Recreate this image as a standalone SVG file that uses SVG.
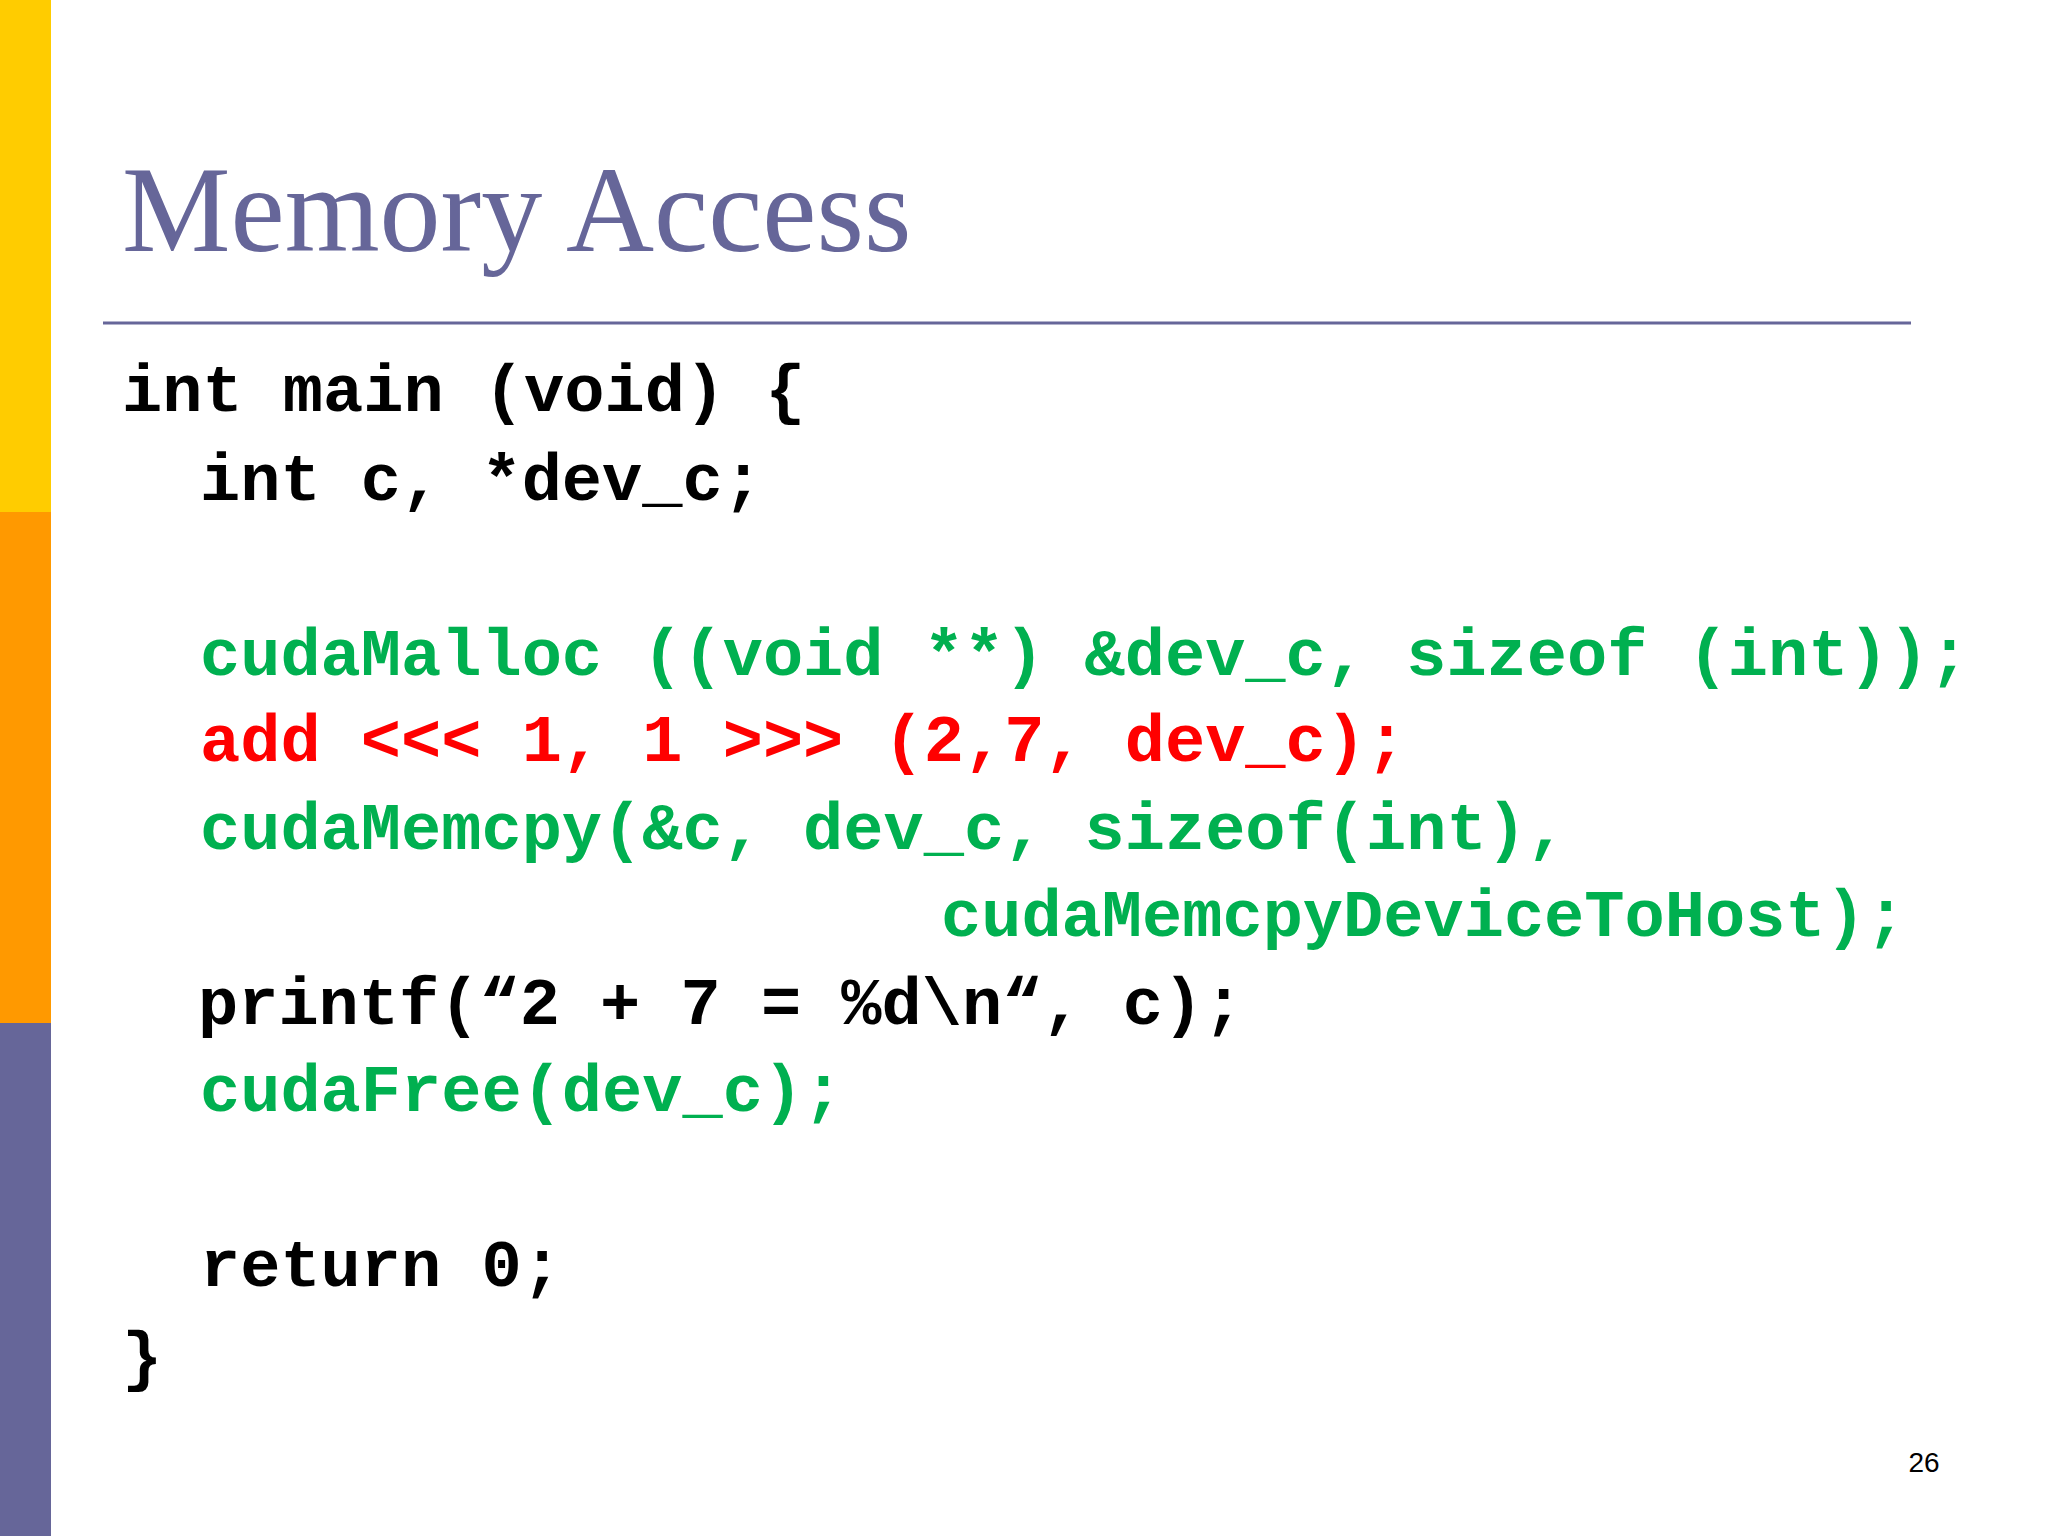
<svg xmlns="http://www.w3.org/2000/svg" width="2048" height="1536" viewBox="0 0 2048 1536">
<style>
.c{font-family:"Liberation Mono","Courier New",monospace;font-weight:bold;font-size:67px;white-space:pre}
.k{fill:#000}.g{fill:#00b050}.r{fill:#ff0000}
</style>
<rect width="2048" height="1536" fill="#fff"/>
<g id="sidebar">
<rect x="0" y="0" width="51" height="512" fill="#ffcc00"/>
<rect x="0" y="512" width="51" height="511" fill="#ff9900"/>
<rect x="0" y="1023" width="51" height="513" fill="#666699"/>
</g>
<g id="title">
<text x="122" y="251" font-family="Liberation Serif,serif" font-size="122" fill="#666699">Memory Access</text>
<line x1="103" y1="323" x2="1911" y2="323" stroke="#666699" stroke-width="3"/>
</g>
<g id="code">
<text class="c k" x="122" y="411">int main (void) {</text>
<text class="c k" x="200" y="500">int c, *dev_c;</text>
<text class="c g" x="200" y="675">cudaMalloc ((void **) &amp;dev_c, sizeof (int));</text>
<text class="c r" x="200" y="761">add &lt;&lt;&lt; 1, 1 &gt;&gt;&gt; (2,7, dev_c);</text>
<text class="c g" x="200" y="849">cudaMemcpy(&amp;c, dev_c, sizeof(int),</text>
<text class="c g" x="941" y="936">cudaMemcpyDeviceToHost);</text>
<text class="c k" x="198" y="1024">printf(“2 + 7 = %d\n“, c);</text>
<text class="c g" x="200" y="1111">cudaFree(dev_c);</text>
<text class="c k" x="200" y="1286">return 0;</text>
<text class="c k" x="122" y="1378">}</text>
</g>
<text x="1924" y="1472" font-family="Liberation Sans,Arial,sans-serif" font-size="28" text-anchor="middle" fill="#000">26</text>
</svg>
